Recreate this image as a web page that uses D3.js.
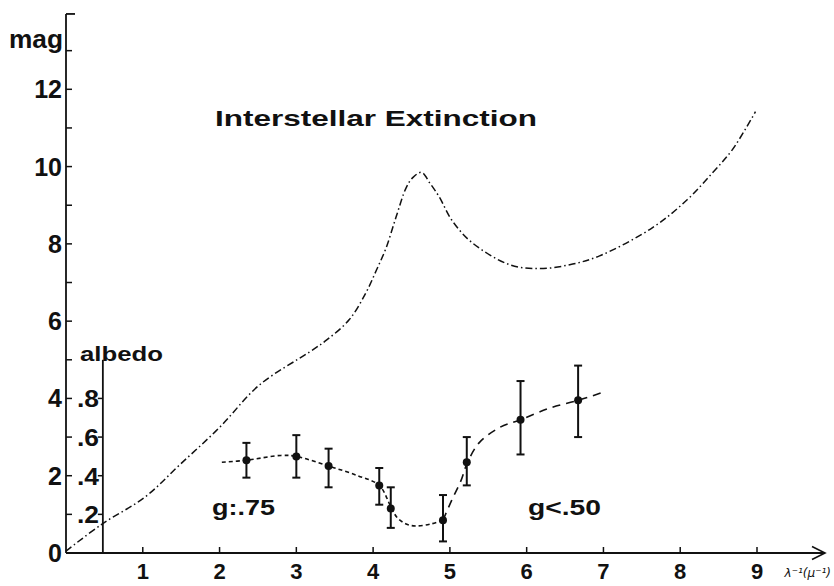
<!DOCTYPE html>
<html>
<head>
<meta charset="utf-8"/>
<title>Interstellar Extinction</title>
<script src="https://d3js.org/d3.v7.min.js"></script>
<style>
  body { margin: 0; background: #fff; }
  text { font-family: "Liberation Sans", Arial, sans-serif; font-weight: bold; fill: #111; }
</style>
</head>
<body>
<script>
// extinction curve: 1/lambda (micron^-1) vs mag
var extX   = [0, 0.47, 1.03, 1.48, 2.00, 2.52, 3.17, 3.40, 3.69, 3.91, 4.05, 4.17, 4.30, 4.43, 4.52, 4.63, 4.74, 4.86, 5.03, 5.29, 5.78, 6.17, 6.56, 6.95, 7.64, 8.09, 8.42, 8.68, 8.98];
var extMag = [0.05, 0.75, 1.45, 2.28, 3.25, 4.35, 5.20, 5.52, 6.04, 6.75, 7.35, 7.90, 8.70, 9.45, 9.72, 9.85, 9.57, 9.22, 8.60, 8.03, 7.46, 7.36, 7.46, 7.69, 8.42, 9.14, 9.84, 10.44, 11.42];

// albedo measurements with error bars
var ptX   = [2.35, 3.00, 3.42, 4.08, 4.23, 4.91, 5.22, 5.92, 6.67];
var ptAlb = [0.48, 0.50, 0.45, 0.35, 0.23, 0.17, 0.47, 0.69, 0.79];
var ptLo  = [0.39, 0.39, 0.34, 0.25, 0.13, 0.06, 0.35, 0.51, 0.60];
var ptHi  = [0.57, 0.61, 0.54, 0.44, 0.34, 0.30, 0.60, 0.89, 0.97];

// fitted albedo curve (short dashes left, long dashes right)
var fitLowX   = [2.03, 2.35, 2.80, 3.00, 3.42, 3.80, 4.08, 4.23, 4.31, 4.43, 4.56, 4.75, 4.91];
var fitLowAlb = [0.47, 0.48, 0.505, 0.50, 0.45, 0.40, 0.35, 0.24, 0.185, 0.15, 0.14, 0.15, 0.17];
var fitHighX   = [4.91, 5.02, 5.15, 5.22, 5.38, 5.65, 5.92, 6.30, 6.67, 6.98];
var fitHighAlb = [0.17, 0.27, 0.38, 0.46, 0.57, 0.65, 0.69, 0.75, 0.79, 0.83];

var magTicks = [1, 2, 3, 4, 5, 6, 7, 8, 9, 10, 11, 12, 13];
var magLabels = [0, 2, 4, 6, 8, 10, 12];
var xTicks = [1, 2, 3, 4, 5, 6, 7, 8, 9];
var albTicks = [0.2, 0.4, 0.6, 0.8];
var albLabels = [".2", ".4", ".6", ".8"];
var albAxisAt = 0.48;

var W = 834, H = 586;
var svg = d3.select("body").append("svg")
    .attr("width", W).attr("height", H)
    .style("display", "block");
svg.append("rect").attr("width", W).attr("height", H).attr("fill", "#fff");

var x = d3.scaleLinear().domain([0, 9]).range([66, 757]);
var y = d3.scaleLinear().domain([0, 12]).range([553, 89.3]);
var yAlb = d3.scaleLinear().domain([0, 1]).range([y(0), y(5)]);

var ink = "#111";

// mag axis
svg.append("line")
    .attr("x1", x(0)).attr("x2", x(0))
    .attr("y1", y(0)).attr("y2", y(13.95))
    .attr("stroke", ink).attr("stroke-width", 1.8);
svg.append("line")
    .attr("x1", x(0)).attr("x2", x(0) + 9)
    .attr("y1", y(13.95)).attr("y2", y(13.95))
    .attr("stroke", ink).attr("stroke-width", 1.8);
svg.selectAll(".mtick").data(magTicks).enter().append("line")
    .attr("x1", x(0)).attr("x2", x(0) + 6)
    .attr("y1", function(d) { return y(d); })
    .attr("y2", function(d) { return y(d); })
    .attr("stroke", ink).attr("stroke-width", 1.5);
svg.selectAll(".mlab").data(magLabels).enter().append("text")
    .attr("x", 62)
    .attr("y", function(d) { return y(d) + 9; })
    .attr("text-anchor", "end")
    .style("font-size", "25px")
    .text(function(d) { return d; });
svg.append("text").attr("x", 9).attr("y", 48)
    .style("font-size", "25px")
    .attr("textLength", 54).attr("lengthAdjust", "spacingAndGlyphs")
    .text("mag");

// x axis with arrow
svg.append("line")
    .attr("x1", x(0)).attr("x2", 825)
    .attr("y1", y(0)).attr("y2", y(0))
    .attr("stroke", ink).attr("stroke-width", 1.8);
svg.append("path")
    .attr("d", "M812," + (y(0) - 6.5) + "L825," + y(0) + "L812," + (y(0) + 6.5))
    .attr("fill", "none").attr("stroke", ink).attr("stroke-width", 1.6);
svg.selectAll(".xtick").data(xTicks).enter().append("line")
    .attr("x1", function(d) { return x(d); })
    .attr("x2", function(d) { return x(d); })
    .attr("y1", y(0)).attr("y2", y(0) - 6)
    .attr("stroke", ink).attr("stroke-width", 1.5);
svg.selectAll(".xlab").data(xTicks).enter().append("text")
    .attr("x", function(d) { return x(d); })
    .attr("y", 579)
    .attr("text-anchor", "middle")
    .style("font-size", "22px")
    .text(function(d) { return d; });
svg.append("text").attr("x", 831).attr("y", 577)
    .attr("text-anchor", "end")
    .style("font-family", "'DejaVu Sans', sans-serif")
    .style("font-size", "12px").style("font-style", "italic").style("font-weight", "normal")
    .text("λ⁻¹(μ⁻¹)");

// albedo axis
svg.append("line")
    .attr("x1", x(albAxisAt)).attr("x2", x(albAxisAt))
    .attr("y1", yAlb(0)).attr("y2", yAlb(1))
    .attr("stroke", ink).attr("stroke-width", 1.8);
svg.selectAll(".atick").data(albTicks).enter().append("line")
    .attr("x1", x(albAxisAt) - 5).attr("x2", x(albAxisAt))
    .attr("y1", function(d) { return yAlb(d); })
    .attr("y2", function(d) { return yAlb(d); })
    .attr("stroke", ink).attr("stroke-width", 1.5);
svg.selectAll(".alab").data(albTicks).enter().append("text")
    .attr("x", 77)
    .attr("y", function(d) { return yAlb(d) + 9; })
    .style("font-size", "24px")
    .attr("textLength", 22).attr("lengthAdjust", "spacingAndGlyphs")
    .text(function(d, i) { return albLabels[i]; });
svg.append("text").attr("x", 80).attr("y", 361)
    .style("font-size", "21px")
    .attr("textLength", 83).attr("lengthAdjust", "spacingAndGlyphs")
    .text("albedo");

// extinction curve
var extLine = d3.line()
    .x(function(d, i) { return x(extX[i]); })
    .y(function(d, i) { return y(extMag[i]); })
    .curve(d3.curveCatmullRom.alpha(0.5));
svg.append("path").datum(extX)
    .attr("d", extLine)
    .attr("fill", "none").attr("stroke", ink).attr("stroke-width", 1.5)
    .attr("stroke-dasharray", "7,3,1.5,3");

// fitted albedo curve
function fitPath(xs, as, dash) {
  var ln = d3.line()
      .x(function(d, i) { return x(xs[i]); })
      .y(function(d, i) { return yAlb(as[i]); })
      .curve(d3.curveCatmullRom.alpha(0.5));
  svg.append("path").datum(xs)
      .attr("d", ln)
      .attr("fill", "none").attr("stroke", ink).attr("stroke-width", 1.6)
      .attr("stroke-dasharray", dash);
}
fitPath(fitLowX, fitLowAlb, "4,3");
fitPath(fitHighX, fitHighAlb, "8,6");

// error bars and points
var pts = svg.selectAll(".pt").data(ptX).enter().append("g");
pts.append("line")
    .attr("x1", function(d) { return x(d); })
    .attr("x2", function(d) { return x(d); })
    .attr("y1", function(d, i) { return yAlb(ptLo[i]); })
    .attr("y2", function(d, i) { return yAlb(ptHi[i]); })
    .attr("stroke", ink).attr("stroke-width", 2);
pts.append("line")
    .attr("x1", function(d) { return x(d) - 4; })
    .attr("x2", function(d) { return x(d) + 4; })
    .attr("y1", function(d, i) { return yAlb(ptLo[i]); })
    .attr("y2", function(d, i) { return yAlb(ptLo[i]); })
    .attr("stroke", ink).attr("stroke-width", 2);
pts.append("line")
    .attr("x1", function(d) { return x(d) - 4; })
    .attr("x2", function(d) { return x(d) + 4; })
    .attr("y1", function(d, i) { return yAlb(ptHi[i]); })
    .attr("y2", function(d, i) { return yAlb(ptHi[i]); })
    .attr("stroke", ink).attr("stroke-width", 2);
pts.append("circle")
    .attr("cx", function(d) { return x(d); })
    .attr("cy", function(d, i) { return yAlb(ptAlb[i]); })
    .attr("r", 4)
    .attr("fill", ink);

// annotations
svg.append("text").attr("x", 215).attr("y", 126)
    .style("font-size", "22px")
    .attr("textLength", 322).attr("lengthAdjust", "spacingAndGlyphs")
    .text("Interstellar Extinction");
svg.append("text").attr("x", 212).attr("y", 515)
    .style("font-size", "22px")
    .attr("textLength", 63).attr("lengthAdjust", "spacingAndGlyphs")
    .text("g:.75");
svg.append("text").attr("x", 528).attr("y", 515)
    .style("font-size", "22px")
    .attr("textLength", 73).attr("lengthAdjust", "spacingAndGlyphs")
    .text("g<.50");
</script>
</body>
</html>
